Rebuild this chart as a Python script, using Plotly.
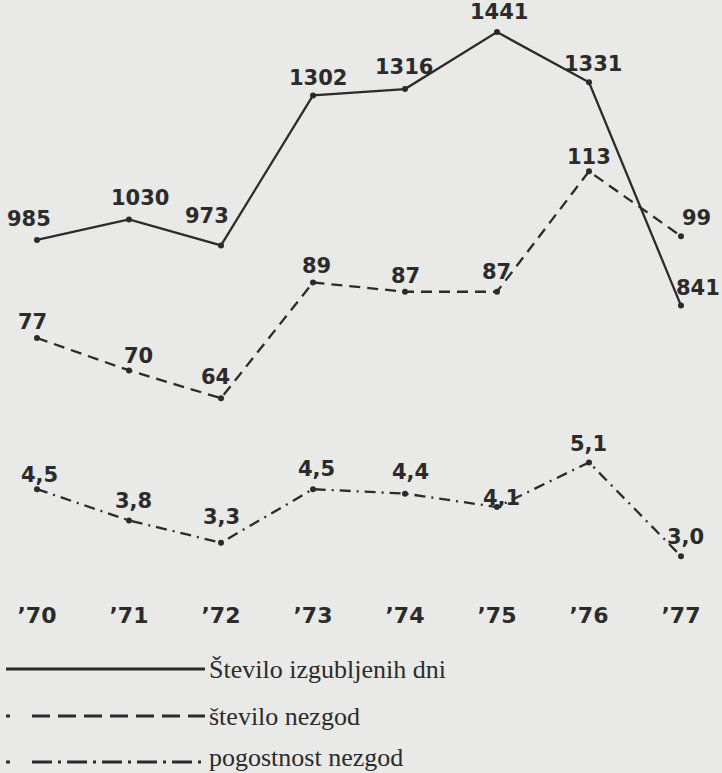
import plotly.graph_objects as go

years = ["’70", "’71", "’72", "’73", "’74", "’75", "’76", "’77"]
lost_days = [985, 1030, 973, 1302, 1316, 1441, 1331, 841]
accidents = [77, 70, 64, 89, 87, 87, 113, 99]
frequency = [4.5, 3.8, 3.3, 4.5, 4.4, 4.1, 5.1, 3.0]

legend_names = ["Število izgubljenih dni", "število nezgod", "pogostnost nezgod"]

W, H = 722, 773
INK = "#2b2b2b"
BG = "#e9e9e8"
LABEL_FONT = dict(family="DejaVu Sans", size=21, color=INK)

# label offsets (pixels) relative to each point: (xshift, yshift)
off_days = [(-8, 21), (11, 21), (-14, 29), (5, 17), (-1, 22), (2, 20), (4, 18), (17, 18)]
off_acc = [(-5, 16), (9, 14), (-6, 21), (3, 16), (0, 16), (-1, 20), (0, 14), (15, 18)]
off_freq = [(2, 14), (4, 19), (0, 26), (3, 20), (5, 22), (4, 9), (-1, 18), (4, 19)]

fig = go.Figure()

series = [
    (lost_days, "y", "solid", off_days, lambda v: f"{v}"),
    (accidents, "y2", "11px,7px", off_acc, lambda v: f"{v}"),
    (frequency, "y3", "11px,6px,2px,6px", off_freq, lambda v: f"{v:.1f}".replace(".", ",")),
]

annotations = []
for (vals, yax, dash, offs, fmt), name in zip(series, legend_names):
    fig.add_trace(go.Scatter(
        x=years, y=vals, yaxis=yax, name=name, mode="lines+markers",
        line=dict(color=INK, width=2.3, dash=dash),
        marker=dict(color=INK, size=6),
        showlegend=False, hoverinfo="skip",
    ))
    for xv, v, (dx, dy) in zip(years, vals, offs):
        annotations.append(dict(
            x=xv, y=v, xref="x", yref=yax, text=f"<b>{fmt(v)}</b>",
            showarrow=False, xshift=dx, yshift=dy, font=LABEL_FONT,
            xanchor="center", yanchor="middle",
        ))

# legend drawn as long sample lines with text
legend_rows = [
    (669, "solid", 6, False),
    (716, "18px,8px", 32, True),
    (762, "20px,6px,3px,6px", 32, True),
]
shapes = []
for (py, dash, start, dot), name in zip(legend_rows, legend_names):
    yp = 1 - py / H
    shapes.append(dict(type="line", xref="paper", yref="paper",
                       x0=start / W, x1=205 / W, y0=yp, y1=yp,
                       line=dict(color=INK, width=3, dash=dash)))
    if dot:
        shapes.append(dict(type="line", xref="paper", yref="paper",
                           x0=6 / W, x1=10 / W, y0=yp, y1=yp,
                           line=dict(color=INK, width=3)))
    ty = min(py, 757)
    annotations.append(dict(x=207 / W, y=1 - ty / H, xref="paper", yref="paper",
                            text=name, showarrow=False, xanchor="left",
                            yanchor="middle",
                            font=dict(family="Liberation Serif", size=26, color=INK)))

step = 92.0
x0px = 37.0
fig.update_layout(
    width=W, height=H,
    margin=dict(l=0, r=0, t=0, b=0),
    paper_bgcolor=BG, plot_bgcolor=BG,
    xaxis=dict(type="category", range=[-x0px / step, (W - x0px) / step],
               anchor="free", position=1 - 600 / H,
               showgrid=False, zeroline=False, showline=False, ticks="",
               tickfont=dict(family="DejaVu Sans", size=22, color=INK),
               tickprefix="<b>", ticksuffix="</b>"),
    yaxis=dict(range=[-184.5, 1511.4], visible=False, domain=[0, 1]),
    yaxis2=dict(range=[-16.93, 150.0], visible=False, overlaying="y"),
    yaxis3=dict(range=[-1.857, 15.456], visible=False, overlaying="y"),
    shapes=shapes,
    annotations=annotations,
)

fig.write_html(
    "out.html",
    config={"displayModeBar": False},
    post_script="document.body.style.margin='0';document.body.style.overflow='hidden';document.body.style.background='" + BG + "';",
)
